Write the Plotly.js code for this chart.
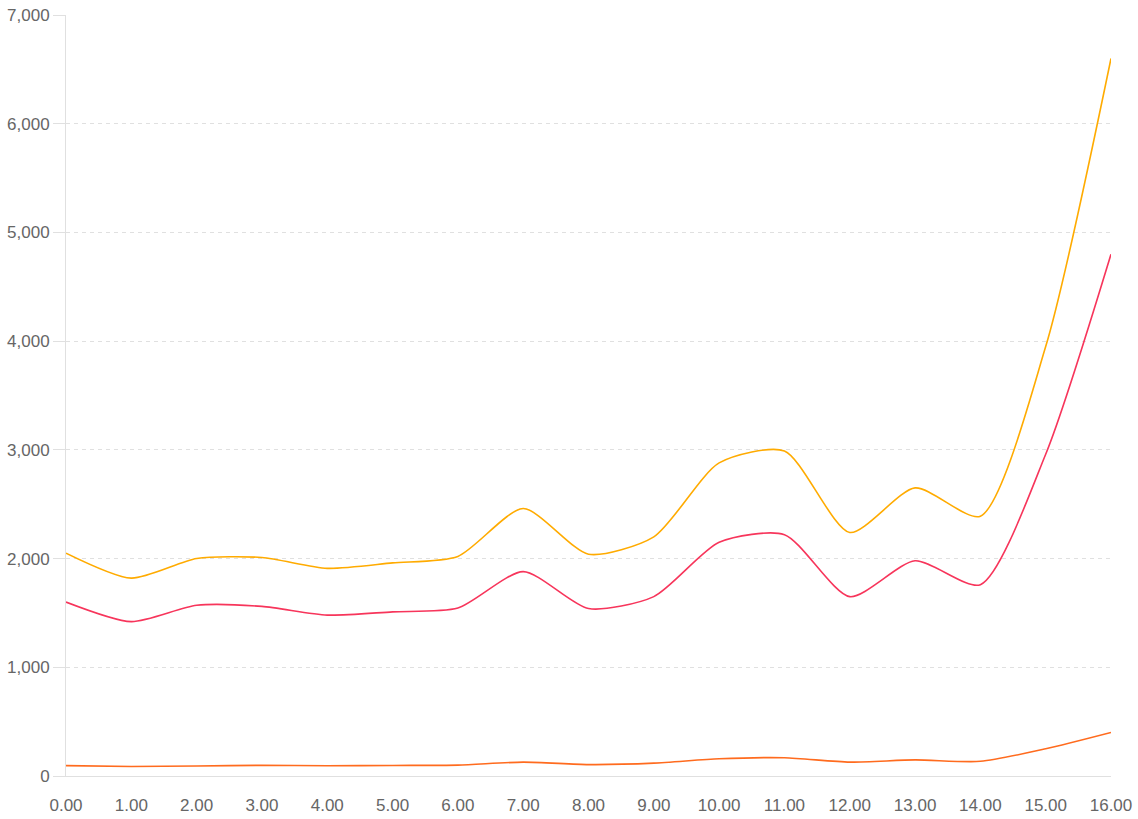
<!DOCTYPE html>
<html>
<head>
<meta charset="utf-8">
<script src="https://cdn.plot.ly/plotly-3.0.1.min.js"></script>
<style>
  html, body { margin: 0; padding: 0; background: #fff; }
  #chart { width: 1138px; height: 819px; }
</style>
</head>
<body>
<div id="chart"></div>
<script>
// x positions and the three series
let xValues = [0, 1, 2, 3, 4, 5, 6, 7, 8, 9, 10, 11, 12, 13, 14, 15, 16];
let topSeries = [2050, 1820, 2000, 2010, 1910, 1960, 2020, 2460, 2040, 2200, 2880, 2990, 2240, 2650, 2390, 3950, 6600];
let midSeries = [1600, 1420, 1570, 1560, 1480, 1510, 1545, 1880, 1540, 1650, 2150, 2220, 1650, 1980, 1760, 2960, 4800];
let lowSeries = [95, 88, 92, 98, 94, 97, 100, 128, 105, 118, 158, 168, 128, 148, 135, 250, 400];
let yTicks = [0, 1000, 2000, 3000, 4000, 5000, 6000, 7000];

function makeLine(y, color) {
  return {
    x: xValues,
    y: y,
    type: "scatter",
    mode: "lines",
    line: { color: color, width: 1.6, shape: "spline", smoothing: 0.7 },
    hoverinfo: "x+y"
  };
}

let data = [
  makeLine(lowSeries, "#ff6b1e"),
  makeLine(midSeries, "#f7355b"),
  makeLine(topSeries, "#ffab00")
];

let tickFont = { family: "Liberation Sans, Arial, sans-serif", size: 17, color: "#666" };

let layout = {
  width: 1138,
  height: 819,
  margin: { l: 66, r: 27, t: 15, b: 43 },
  paper_bgcolor: "#fff",
  plot_bgcolor: "#fff",
  showlegend: false,
  xaxis: {
    range: [0, 16],
    tickvals: xValues,
    ticktext: xValues.map(v => v.toFixed(2)),
    showgrid: false,
    zeroline: false,
    showline: true,
    linecolor: "#e0e0e0",
    linewidth: 1,
    ticks: "",
    ticklabelstandoff: 14,
    tickfont: tickFont
  },
  yaxis: {
    range: [0, 7000],
    tickvals: yTicks,
    ticktext: yTicks.map(v => v.toLocaleString("en-US")),
    showgrid: true,
    gridcolor: "#e0e0e0",
    griddash: "4px,4px",
    gridwidth: 1,
    zeroline: false,
    showline: true,
    linecolor: "#e0e0e0",
    linewidth: 1,
    ticks: "outside",
    ticklen: 12,
    tickcolor: "#e0e0e0",
    ticklabelstandoff: 0,
    tickfont: tickFont
  }
};

Plotly.newPlot("chart", data, layout, { displayModeBar: false, staticPlot: true });
</script>
</body>
</html>
